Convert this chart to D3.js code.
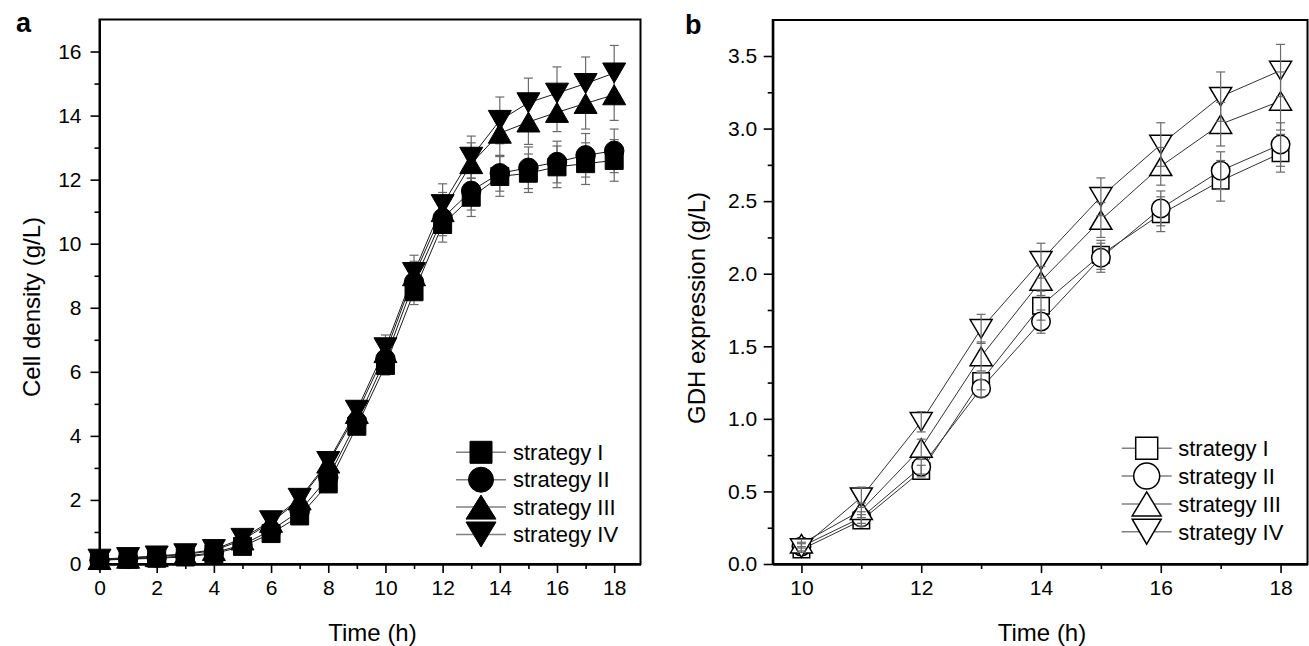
<!DOCTYPE html>
<html><head><meta charset="utf-8">
<script src="https://cdn.jsdelivr.net/npm/d3@7"></script>
<style>
html,body{margin:0;padding:0;background:#fff;}
text{font-family:"Liberation Sans",Arial,sans-serif;fill:#000;}
</style></head>
<body>
<svg id="chart" width="1309" height="646"></svg>
<script>
// ---------- data ----------
const seriesNames = ["strategy I", "strategy II", "strategy III", "strategy IV"];
const markerTypes = ["square", "circle", "up", "down"];

// Panel a: cell density (g/L)
const timeA = [0,1,2,3,4,5,6,7,8,9,10,11,12,13,14,15,16,17,18];
const cellI   = [0.12,0.15,0.18,0.22,0.32,0.55,0.95,1.50,2.50,4.30,6.20,8.50,10.60,11.45,12.10,12.20,12.40,12.50,12.60];
const cellII  = [0.12,0.16,0.20,0.25,0.35,0.60,1.05,1.65,2.70,4.45,6.40,8.80,10.80,11.65,12.20,12.37,12.55,12.76,12.90];
const cellIII = [0.14,0.18,0.23,0.30,0.42,0.75,1.30,2.00,3.15,4.70,6.60,9.00,11.00,12.50,13.45,13.80,14.10,14.38,14.65];
const cellIV  = [0.15,0.20,0.25,0.32,0.45,0.80,1.35,2.05,3.20,4.80,6.75,9.10,11.22,12.70,13.85,14.40,14.70,15.00,15.33];
const cellErrI   = [0.02,0.02,0.02,0.03,0.04,0.06,0.10,0.15,0.20,0.25,0.30,0.40,0.55,0.60,0.62,0.60,0.65,0.65,0.65];
const cellErrII  = [0.02,0.02,0.02,0.03,0.04,0.06,0.10,0.15,0.20,0.25,0.30,0.45,0.55,0.60,0.56,0.65,0.65,0.68,0.68];
const cellErrIII = [0.02,0.02,0.03,0.03,0.05,0.07,0.10,0.15,0.20,0.28,0.35,0.45,0.60,0.65,0.70,0.70,0.60,0.80,0.80];
const cellErrIV  = [0.02,0.02,0.03,0.03,0.05,0.07,0.10,0.15,0.20,0.30,0.40,0.54,0.65,0.66,0.73,0.77,0.82,0.83,0.86];

// Panel b: GDH expression (g/L)
const timeB = [10,11,12,13,14,15,16,17,18];
const gdhI   = [0.10,0.30,0.64,1.26,1.78,2.13,2.41,2.64,2.83];
const gdhII  = [0.12,0.32,0.67,1.21,1.67,2.11,2.45,2.71,2.89];
const gdhIII = [0.14,0.37,0.80,1.43,1.95,2.37,2.74,3.03,3.19];
const gdhIV  = [0.11,0.46,0.98,1.62,2.09,2.53,2.89,3.22,3.40];
const gdhErrI   = [0.02,0.04,0.04,0.06,0.10,0.10,0.12,0.14,0.13];
const gdhErrII  = [0.03,0.04,0.05,0.06,0.08,0.10,0.12,0.13,0.15];
const gdhErrIII = [0.03,0.05,0.06,0.10,0.10,0.12,0.13,0.15,0.20];
const gdhErrIV  = [0.03,0.07,0.07,0.10,0.12,0.13,0.15,0.17,0.18];

// axis ticks
const xTicksA = [0,2,4,6,8,10,12,14,16,18];
const xMinorA = [1,3,5,7,9,11,13,15,17];
const yTicksA = [0,2,4,6,8,10,12,14,16];
const yMinorA = [1,3,5,7,9,11,13,15];
const xTicksB = [10,12,14,16,18];
const xMinorB = [11,13,15,17];
const yTicksB = [0,0.5,1.0,1.5,2.0,2.5,3.0,3.5];
const yMinorB = [0.25,0.75,1.25,1.75,2.25,2.75,3.25];

// ---------- drawing ----------
const svg = d3.select("#chart");

function markerPath(type, w, h) {
  const p = d3.path();
  if (type === "square") { p.rect(-w/2, -w/2, w, w); }
  else if (type === "circle") { p.arc(0, 0, w/2, 0, 2*Math.PI); }
  else if (type === "up") { p.moveTo(0, -h/2); p.lineTo(w/2, h/2); p.lineTo(-w/2, h/2); p.closePath(); }
  else { p.moveTo(0, h/2); p.lineTo(w/2, -h/2); p.lineTo(-w/2, -h/2); p.closePath(); }
  return p.toString();
}

function drawPanel(cfg) {
  const g = svg.append("g");
  const x = d3.scaleLinear().domain(cfg.xdom).range([cfg.left, cfg.right]);
  const y = d3.scaleLinear().domain(cfg.ydom).range([cfg.bottom, cfg.top]);

  // frame
  g.append("rect").attr("x", cfg.left).attr("y", cfg.top)
    .attr("width", cfg.right - cfg.left).attr("height", cfg.bottom - cfg.top)
    .attr("fill", "none").attr("stroke", "#000").attr("stroke-width", 2);

  // minor ticks
  const minX = g.append("g").attr("transform", `translate(0,${cfg.bottom})`)
    .call(d3.axisBottom(x).tickValues(cfg.xMinor).tickSize(5).tickSizeOuter(0).tickFormat(""));
  const minY = g.append("g").attr("transform", `translate(${cfg.left},0)`)
    .call(d3.axisLeft(y).tickValues(cfg.yMinor).tickSize(5).tickSizeOuter(0).tickFormat(""));
  // major
  const axX = g.append("g").attr("transform", `translate(0,${cfg.bottom})`)
    .call(d3.axisBottom(x).tickValues(cfg.xTicks).tickSize(9).tickSizeOuter(0).tickPadding(cfg.xPad).tickFormat(cfg.xFmt));
  const axY = g.append("g").attr("transform", `translate(${cfg.left},0)`)
    .call(d3.axisLeft(y).tickValues(cfg.yTicks).tickSize(9).tickSizeOuter(0).tickPadding(cfg.yPad).tickFormat(cfg.yFmt));
  [minX, minY, axX, axY].forEach(a => {
    a.selectAll("line").attr("stroke", "#000").attr("stroke-width", 1.6);
    a.select(".domain").attr("stroke", "#000").attr("stroke-width", 2);
    a.selectAll("text").style("font-family", '"Liberation Sans",Arial,sans-serif')
      .style("font-size", "21px").attr("fill", "#000");
  });

  const line = d3.line().x(d => x(d.t)).y(d => y(d.v));

  const series = cfg.series.map((vals, i) => vals.map((v, j) => ({t: cfg.time[j], v: v, e: cfg.errs[i][j]})));

  // lines
  series.forEach(s => {
    g.append("path").datum(s).attr("d", line).attr("fill", "none")
      .attr("stroke", cfg.lineColor).attr("stroke-width", 1);
  });

  function drawErrors() {
    series.forEach(s => {
      const eg = g.append("g").attr("stroke", "#6a6a6a").attr("stroke-width", 1.2);
      s.forEach(d => {
        eg.append("line").attr("x1", x(d.t)).attr("x2", x(d.t)).attr("y1", y(d.v - d.e)).attr("y2", y(d.v + d.e));
        eg.append("line").attr("x1", x(d.t) - 4.5).attr("x2", x(d.t) + 4.5).attr("y1", y(d.v + d.e)).attr("y2", y(d.v + d.e));
        eg.append("line").attr("x1", x(d.t) - 4.5).attr("x2", x(d.t) + 4.5).attr("y1", y(d.v - d.e)).attr("y2", y(d.v - d.e));
      });
    });
  }
  if (!cfg.errorsOnTop) drawErrors();

  // markers
  series.forEach((s, i) => {
    const sz = cfg.markerSize[markerTypes[i]];
    g.selectAll(null).data(s).join("path")
      .attr("d", markerPath(markerTypes[i], sz[0], sz[1]))
      .attr("transform", d => `translate(${x(d.t)},${y(d.v)})`)
      .attr("fill", cfg.filled ? "#000" : "#fff")
      .attr("stroke", "#000").attr("stroke-width", cfg.filled ? 1 : 1.5);
  });
  if (cfg.errorsOnTop) drawErrors();

  // axis titles
  g.append("text").attr("x", cfg.xTitlePos[0]).attr("y", cfg.xTitlePos[1])
    .attr("text-anchor", "middle").style("font-size", "24px").text(cfg.xTitle);
  g.append("text").attr("transform", `translate(${cfg.yTitlePos[0]},${cfg.yTitlePos[1]}) rotate(-90)`)
    .attr("text-anchor", "middle").style("font-size", "24px").text(cfg.yTitle);

  // panel label
  g.append("text").attr("x", cfg.labelPos[0]).attr("y", cfg.labelPos[1])
    .style("font-size", "27px").style("font-weight", "bold").text(cfg.label);

  // legend
  const lg = g.append("g");
  seriesNames.forEach((name, i) => {
    const cy = cfg.legend.y + i * cfg.legend.dy;
    const cx = cfg.legend.x;
    lg.append("line").attr("x1", cx - 25).attr("x2", cx + 25).attr("y1", cy).attr("y2", cy)
      .attr("stroke", "#808080").attr("stroke-width", 1.5);
    const sz = cfg.legend.size[markerTypes[i]];
    lg.append("path").attr("d", markerPath(markerTypes[i], sz[0], sz[1]))
      .attr("transform", `translate(${cx},${cy})`)
      .attr("fill", cfg.filled ? "#000" : "#fff").attr("stroke", "#000")
      .attr("stroke-width", cfg.filled ? 1 : 1.5);
    lg.append("text").attr("x", cx + cfg.legend.tx).attr("y", cy + cfg.legend.by)
      .style("font-size", "22px").text(name);
  });
}

drawPanel({
  left: 99.5, right: 640.5, top: 19.5, bottom: 564,
  xdom: [0, 18.92], ydom: [0, 17],
  xTicks: xTicksA, xMinor: xMinorA, yTicks: yTicksA, yMinor: yMinorA,
  xFmt: d3.format("d"), yFmt: d3.format("d"), xPad: 7, yPad: 9,
  time: timeA, series: [cellI, cellII, cellIII, cellIV],
  errs: [cellErrI, cellErrII, cellErrIII, cellErrIV],
  filled: true, errorsOnTop: false, lineColor: "#1a1a1a",
  markerSize: {square: [18, 18], circle: [19.5, 19.5], up: [23, 20], down: [23, 20]},
  xTitle: "Time (h)", yTitle: "Cell density (g/L)",
  xTitlePos: [372.5, 641], yTitlePos: [40, 307],
  label: "a", labelPos: [16, 32],
  legend: {x: 481, y: 452.3, dy: 27.4, tx: 32, by: 7.5,
    size: {square: [22, 22], circle: [25, 25], up: [30, 24], down: [30, 25]}}
});

drawPanel({
  left: 772.7, right: 1307.5, top: 20, bottom: 564,
  xdom: [9.52, 18.45], ydom: [0, 3.748],
  xTicks: xTicksB, xMinor: xMinorB, yTicks: yTicksB, yMinor: yMinorB,
  xFmt: d3.format("d"), yFmt: d3.format(".1f"), xPad: 7, yPad: 6.5,
  time: timeB, series: [gdhI, gdhII, gdhIII, gdhIV],
  errs: [gdhErrI, gdhErrII, gdhErrIII, gdhErrIV],
  filled: false, errorsOnTop: true, lineColor: "#333",
  markerSize: {square: [16.5, 16.5], circle: [18.5, 18.5], up: [22, 18.5], down: [22, 18.5]},
  xTitle: "Time (h)", yTitle: "GDH expression (g/L)",
  xTitlePos: [1042, 641], yTitlePos: [705, 308],
  label: "b", labelPos: [685, 34],
  legend: {x: 1146.7, y: 448.3, dy: 27.8, tx: 31.5, by: 8,
    size: {square: [22, 22], circle: [26, 26], up: [29, 24], down: [29, 25]}}
});
</script>
</body></html>
